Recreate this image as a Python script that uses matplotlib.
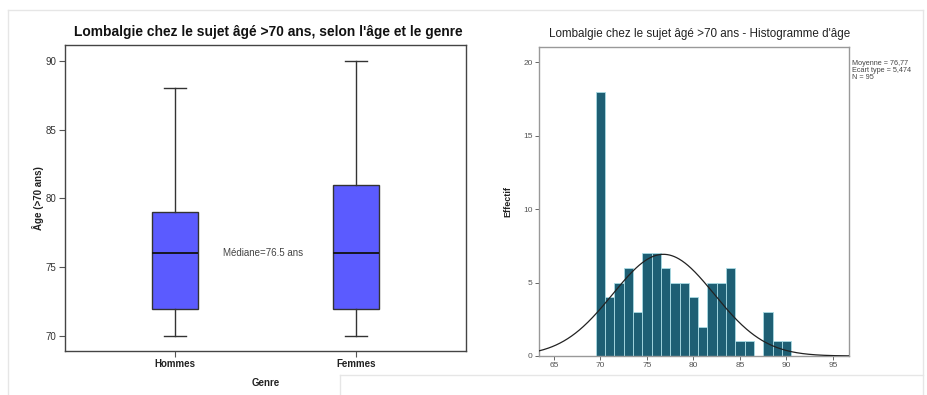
import numpy as np
import matplotlib
matplotlib.use("Agg")
import matplotlib.pyplot as plt
from matplotlib.lines import Line2D

plt.rcParams['font.family'] = ['Liberation Sans', 'DejaVu Sans']

# Boxplot summaries by gender
genres = ["Hommes", "Femmes"]
whisker_low = [70, 70]
q1 = [72, 72]
medians = [76, 76]
q3 = [79, 81]
whisker_high = [88, 90]
median_note = "Médiane=76.5 ans"

# Age histogram (1-year bins)
ages = [70, 71, 72, 73, 74, 75, 76, 77, 78, 79, 80, 81, 82, 83, 84, 85, 86, 87, 88, 89, 90]
counts = [18, 4, 5, 6, 3, 7, 7, 6, 5, 5, 4, 2, 5, 5, 6, 1, 1, 0, 3, 1, 1]
age_mean = 76.77
age_sd = 5.474
n_total = 95
hist_xticks = [65, 70, 75, 80, 85, 90, 95]
hist_yticks = [0, 5, 10, 15, 20]
box_yticks = [70, 75, 80, 85, 90]

W, H = 928, 395
fig = plt.figure(figsize=(W / 100, H / 100), dpi=100)
fig.patch.set_facecolor("white")

def fx(px):
    return px / W

def fy(py):
    return 1 - py / H

# Faint panel frames
frame_col = "#e6e6e6"
fig.add_artist(Line2D([fx(8), fx(923)], [fy(10), fy(10)], color=frame_col, lw=1))
fig.add_artist(Line2D([fx(8), fx(8)], [fy(10), fy(395)], color=frame_col, lw=1))
fig.add_artist(Line2D([fx(923), fx(923)], [fy(10), fy(395)], color=frame_col, lw=1))
fig.add_artist(Line2D([fx(340), fx(923)], [fy(375), fy(375)], color=frame_col, lw=1))
fig.add_artist(Line2D([fx(340), fx(340)], [fy(375), fy(395)], color=frame_col, lw=1))

# ---------------- Boxplot ----------------
ax1 = fig.add_axes([fx(65), fy(351), fx(466 - 65), (351 - 45) / H])
stats = []
for i, g in enumerate(genres):
    stats.append(dict(label=g, whislo=whisker_low[i], q1=q1[i], med=medians[i],
                      q3=q3[i], whishi=whisker_high[i], fliers=[]))
ax1.bxp(stats, positions=[1, 2], widths=0.25, patch_artist=True, showfliers=False,
        boxprops=dict(facecolor="#5b5bff", edgecolor="#333333", linewidth=1.0),
        medianprops=dict(color="#111111", linewidth=1.3),
        whiskerprops=dict(color="#333333", linewidth=1.0),
        capprops=dict(color="#333333", linewidth=1.0),
        capwidths=0.125)
ax1.set_xlim(0.392, 2.608)
ax1.set_ylim(68.91, 91.16)
ax1.set_yticks(box_yticks)
ax1.set_xticks([1, 2])
ax1.set_xticklabels(genres, fontsize=7, fontweight="bold", color="#222222")
for lab in ax1.get_yticklabels():
    lab.set_fontsize(7)
    lab.set_color("#333333")
ax1.tick_params(axis="both", direction="out", length=4, width=0.8, color="#555555", pad=2)
for s in ax1.spines.values():
    s.set_color("#444444")
    s.set_linewidth(1.0)
ax1.set_xlabel("Genre", fontsize=7, fontweight="bold", color="#222222", labelpad=6)
ax1.set_ylabel("Âge (>70 ans)", fontsize=7, fontweight="bold", color="#222222", labelpad=1)
ax1.text(1.486, medians[0], median_note, fontsize=7, color="#444444", ha="center", va="center")
fig.text(fx(268), fy(32), "Lombalgie chez le sujet âgé >70 ans, selon l'âge et le genre",
         fontsize=9.9, fontweight="bold", ha="center", va="center", color="#111111")

# ---------------- Histogram ----------------
ax2 = fig.add_axes([fx(539), fy(356), fx(849 - 539), (356 - 47) / H])
ax2.bar(ages, counts, width=1.0, color="#1e5f74", edgecolor="#a9dbe4", linewidth=0.6, zorder=2)
xs = np.linspace(63.39, 96.72, 400)
pdf = n_total * 1.0 / (age_sd * np.sqrt(2 * np.pi)) * np.exp(-0.5 * ((xs - age_mean) / age_sd) ** 2)
ax2.plot(xs, pdf, color="#222222", lw=0.9, zorder=3)
ax2.set_xlim(63.39, 96.72)
ax2.set_ylim(0, 21.04)
ax2.set_xticks(hist_xticks)
ax2.set_yticks(hist_yticks)
for lab in ax2.get_xticklabels() + ax2.get_yticklabels():
    lab.set_fontsize(6)
    lab.set_color("#555555")
ax2.tick_params(axis="both", direction="out", length=3, width=0.7, color="#666666", pad=1.5)
for s in ax2.spines.values():
    s.set_color("#999999")
    s.set_linewidth(1.0)
ax2.set_ylabel("Effectif", fontsize=6.5, fontweight="bold", color="#222222", labelpad=8)
fig.text(fx(700), fy(34), "Lombalgie chez le sujet âgé >70 ans - Histogramme d'âge",
         fontsize=8.4, ha="center", va="center", color="#222222")
fig.text(fx(852), fy(60), "Moyenne = 76,77\nEcart type = 5,474\nN = 95",
         fontsize=5.2, ha="left", va="top", color="#444444", linespacing=1.0)

fig.savefig("out.png", dpi=100, facecolor="white")
